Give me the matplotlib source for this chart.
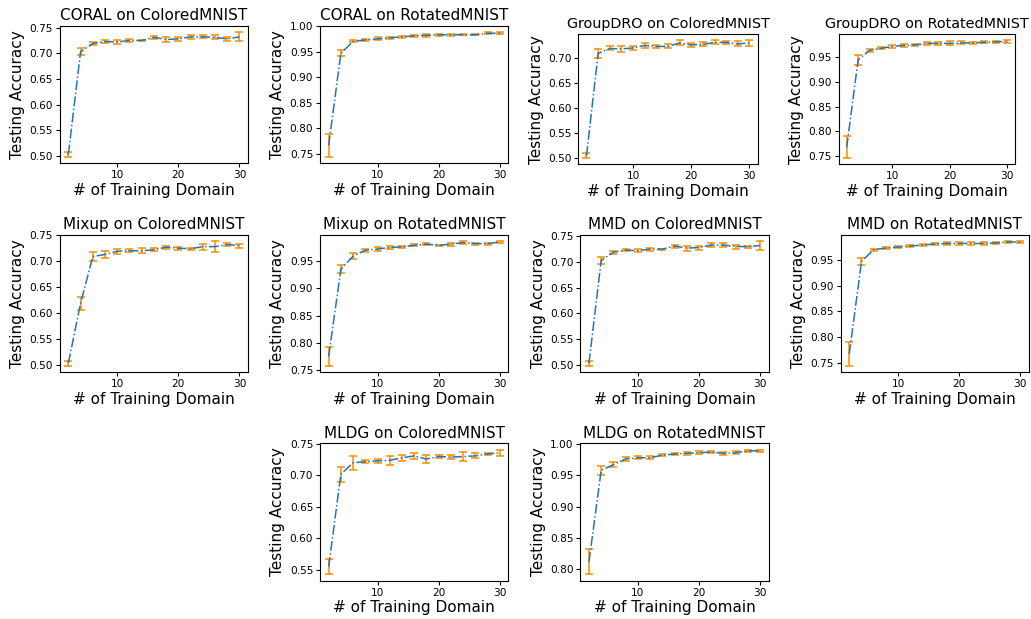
import numpy as np
import matplotlib.pyplot as plt

# число обучающих доменов
domains = [2, 4, 6, 8, 10, 12, 14, 16, 18, 20, 22, 24, 26, 28, 30]

titles = ['CORAL on ColoredMNIST', 'CORAL on RotatedMNIST',
          'GroupDRO on ColoredMNIST', 'GroupDRO on RotatedMNIST',
          'Mixup on ColoredMNIST', 'Mixup on RotatedMNIST',
          'MMD on ColoredMNIST', 'MMD on RotatedMNIST',
          'MLDG on ColoredMNIST', 'MLDG on RotatedMNIST']

coral_cm = [0.503, 0.703, 0.719, 0.723, 0.722, 0.725, 0.725, 0.731, 0.727, 0.728, 0.732, 0.732, 0.731, 0.728, 0.732]
coral_cm_err = [0.005, 0.007, 0.003, 0.003, 0.003, 0.003, 0.001, 0.003, 0.005, 0.004, 0.004, 0.003, 0.004, 0.004, 0.009]
coral_rm = [0.767, 0.947, 0.970, 0.973, 0.975, 0.977, 0.979, 0.981, 0.982, 0.983, 0.983, 0.983, 0.983, 0.986, 0.986]
coral_rm_err = [0.023, 0.006, 0.002, 0.002, 0.003, 0.002, 0.002, 0.002, 0.003, 0.002, 0.002, 0.001, 0.001, 0.002, 0.002]

gdro_cm = [0.505, 0.709, 0.719, 0.718, 0.720, 0.725, 0.723, 0.723, 0.730, 0.726, 0.727, 0.731, 0.731, 0.728, 0.730]
gdro_cm_err = [0.005, 0.009, 0.004, 0.006, 0.004, 0.005, 0.003, 0.004, 0.005, 0.004, 0.004, 0.004, 0.003, 0.005, 0.006]
gdro_rm = [0.768, 0.944, 0.963, 0.967, 0.971, 0.973, 0.974, 0.977, 0.977, 0.977, 0.978, 0.978, 0.979, 0.980, 0.981]
gdro_rm_err = [0.022, 0.010, 0.003, 0.002, 0.003, 0.003, 0.002, 0.003, 0.003, 0.004, 0.003, 0.002, 0.002, 0.002, 0.003]

mixup_cm = [0.503, 0.618, 0.708, 0.712, 0.718, 0.719, 0.719, 0.721, 0.726, 0.724, 0.723, 0.727, 0.727, 0.731, 0.729]
mixup_cm_err = [0.005, 0.012, 0.008, 0.006, 0.005, 0.003, 0.005, 0.003, 0.003, 0.003, 0.002, 0.006, 0.011, 0.003, 0.004]
mixup_rm = [0.775, 0.935, 0.959, 0.970, 0.972, 0.975, 0.976, 0.979, 0.981, 0.979, 0.981, 0.984, 0.982, 0.982, 0.985]
mixup_rm_err = [0.017, 0.007, 0.005, 0.003, 0.003, 0.002, 0.002, 0.002, 0.002, 0.001, 0.003, 0.002, 0.002, 0.002, 0.002]

mmd_cm = [0.503, 0.703, 0.719, 0.723, 0.722, 0.725, 0.725, 0.731, 0.727, 0.728, 0.733, 0.733, 0.730, 0.730, 0.732]
mmd_cm_err = [0.005, 0.007, 0.003, 0.002, 0.003, 0.003, 0.001, 0.003, 0.005, 0.004, 0.004, 0.003, 0.004, 0.002, 0.009]
mmd_rm = [0.767, 0.947, 0.970, 0.973, 0.975, 0.977, 0.979, 0.981, 0.982, 0.982, 0.982, 0.982, 0.983, 0.985, 0.985]
mmd_rm_err = [0.023, 0.006, 0.002, 0.002, 0.002, 0.002, 0.002, 0.002, 0.003, 0.002, 0.002, 0.002, 0.002, 0.002, 0.002]

mldg_cm = [0.555, 0.702, 0.720, 0.722, 0.723, 0.724, 0.728, 0.731, 0.726, 0.730, 0.729, 0.730, 0.731, 0.734, 0.736]
mldg_cm_err = [0.012, 0.012, 0.011, 0.003, 0.003, 0.007, 0.005, 0.005, 0.007, 0.003, 0.003, 0.007, 0.004, 0.002, 0.005]
mldg_rm = [0.812, 0.958, 0.967, 0.976, 0.978, 0.978, 0.982, 0.984, 0.985, 0.986, 0.987, 0.985, 0.986, 0.989, 0.989]
mldg_rm_err = [0.020, 0.007, 0.004, 0.003, 0.002, 0.002, 0.002, 0.002, 0.002, 0.002, 0.002, 0.002, 0.002, 0.002, 0.002]

means = [coral_cm, coral_rm, gdro_cm, gdro_rm, mixup_cm, mixup_rm,
         mmd_cm, mmd_rm, mldg_cm, mldg_rm]
errs = [coral_cm_err, coral_rm_err, gdro_cm_err, gdro_rm_err, mixup_cm_err, mixup_rm_err,
        mmd_cm_err, mmd_rm_err, mldg_cm_err, mldg_rm_err]

# позиции в сетке 3x4: последний ряд — по центру
cells = [(0, 0), (0, 1), (0, 2), (0, 3), (1, 0), (1, 1), (1, 2), (1, 3), (2, 1), (2, 2)]

fig = plt.figure(figsize=(10.31, 6.19), dpi=100)
# общая сетка: ширина осей ~188px, шаг колонок 260px, шаг рядов 210px
gs = fig.add_gridspec(3, 4, left=0.058, right=0.998, top=0.958, bottom=0.062,
                      wspace=0.383, hspace=0.52)

axes = []
for (r, c), title, m, e in zip(cells, titles, means, errs):
    ax = fig.add_subplot(gs[r, c])
    ax.errorbar(domains, m, yerr=e, fmt='-.', color='C0', linewidth=1.1,
                ecolor='darkorange', elinewidth=1.1, capsize=2.8, capthick=1.1)
    ax.set_title(title, fontsize=10.4 if title.startswith('GroupDRO') else 11, pad=4)
    ax.set_xlabel('# of Training Domain', fontsize=11, labelpad=2)
    ax.set_ylabel('Testing Accuracy', fontsize=11, labelpad=3)
    ax.set_xticks([10, 20, 30])
    ax.tick_params(labelsize=7.6, length=3, pad=2)
    ax.yaxis.set_major_formatter(plt.FormatStrFormatter('%.2f'))
    axes.append(ax)

# у GroupDRO заголовки шире осей — оси чуть уже и ниже
for ax, shrink in zip(axes[2:4], [0.0087, 0.0115]):
    p = ax.get_position()
    ax.set_position([p.x0 - 0.002, p.y0 - 0.0016, p.width - shrink, p.height - 0.0113])

plt.savefig('out.png', dpi=100)
